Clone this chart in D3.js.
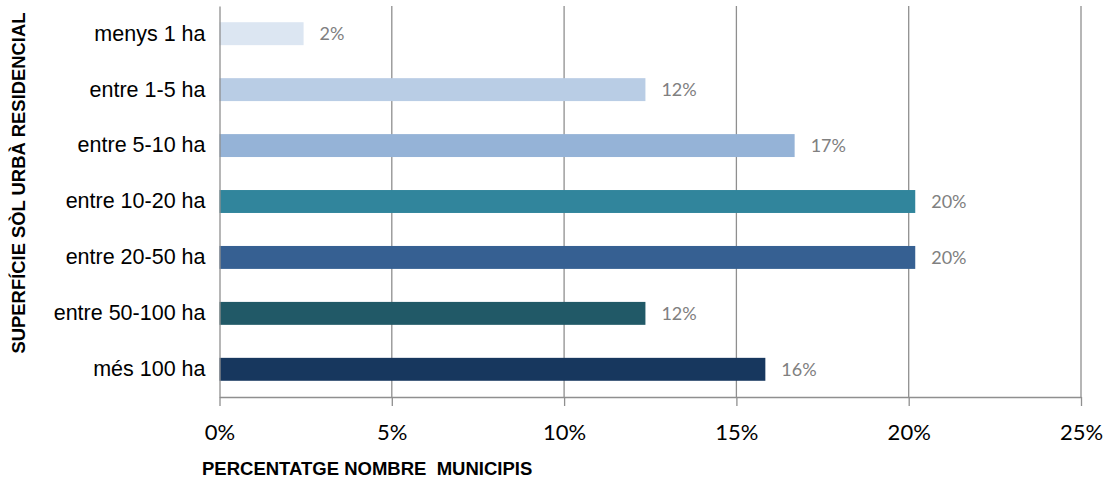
<!DOCTYPE html>
<html>
<head>
<meta charset="utf-8">
<script src="https://cdn.jsdelivr.net/npm/d3@7"></script>
<style>
  body { margin: 0; background: #fff; }
</style>
</head>
<body>
<div id="chart"></div>
<script>
// data
var categories = ["menys 1 ha", "entre 1-5 ha", "entre 5-10 ha", "entre 10-20 ha", "entre 20-50 ha", "entre 50-100 ha", "més 100 ha"]
var values = [0.0244, 0.1236, 0.1669, 0.2019, 0.2019, 0.1236, 0.1584]
var barColors = ["#dce6f2", "#b9cde5", "#95b3d7", "#31859c", "#366092", "#215967", "#17375e"]
var xTicks = [0, 0.05, 0.10, 0.15, 0.20, 0.25]

var width = 1107
var height = 484
var margin = {top: 6, right: 26, bottom: 87, left: 219.5}

var svg = d3.select("#chart")
  .append("svg")
    .attr("width", width)
    .attr("height", height)

var x = d3.scaleLinear()
  .domain([0, 0.25])
  .range([margin.left, width - margin.right])

var y = d3.scaleBand()
  .domain(categories)
  .range([margin.top, height - margin.bottom])
  .paddingInner(0.59)
  .paddingOuter(0.29)

// vertical gridlines
svg.append("g")
  .selectAll("line")
  .data(xTicks.slice(1))
  .join("line")
    .attr("x1", d => x(d))
    .attr("x2", d => x(d))
    .attr("y1", margin.top)
    .attr("y2", height - margin.bottom)
    .attr("stroke", "#8f8f8f")
    .attr("stroke-width", 1.3)

// bars
svg.append("g")
  .selectAll("rect")
  .data(values)
  .join("rect")
    .attr("x", x(0))
    .attr("y", (d, i) => y(categories[i]))
    .attr("width", d => x(d) - x(0))
    .attr("height", y.bandwidth())
    .attr("fill", (d, i) => barColors[i])

// data labels
svg.append("g")
  .selectAll("text")
  .data(values)
  .join("text")
    .attr("x", d => x(d) + 16)
    .attr("y", (d, i) => y(categories[i]) + y.bandwidth() / 2)
    .attr("dy", "0.36em")
    .attr("font-family", "Lato, 'Open Sans', sans-serif")
    .attr("font-size", 18)
    .attr("fill", "#808080")
    .text(d => d3.format(".0%")(d))

// x axis
var xAxis = svg.append("g")
  .attr("transform", "translate(0," + (height - margin.bottom) + ")")
  .call(d3.axisBottom(x).tickValues(xTicks).tickFormat(d3.format(".0%")).tickSizeInner(9).tickSizeOuter(0).tickPadding(18))
xAxis.select(".domain").attr("stroke", "#8f8f8f").attr("stroke-width", 1.3)
xAxis.selectAll(".tick line").attr("stroke", "#8f8f8f").attr("stroke-width", 1.3)
xAxis.selectAll(".tick text")
  .attr("font-family", "Lato, 'Open Sans', sans-serif")
  .attr("font-size", 22)
  .attr("fill", "#000")

// y axis
var yAxis = svg.append("g")
  .attr("transform", "translate(" + margin.left + ",0)")
  .call(d3.axisLeft(y).tickSize(0).tickPadding(14))
yAxis.select(".domain").attr("stroke", "#8f8f8f").attr("stroke-width", 1.3)
yAxis.selectAll(".tick text")
  .attr("font-family", "'Liberation Sans', Arial, sans-serif")
  .attr("font-size", 21.5)
  .attr("fill", "#000")

// axis titles
svg.append("text")
  .attr("x", 202)
  .attr("y", 475)
  .attr("font-family", "'Liberation Sans', Arial, sans-serif")
  .attr("font-weight", "bold")
  .attr("font-size", 18.5)
  .style("white-space", "pre")
  .text("PERCENTATGE NOMBRE  MUNICIPIS")

svg.append("text")
  .attr("transform", "translate(25,183) rotate(-90)")
  .attr("text-anchor", "middle")
  .attr("font-family", "'Liberation Sans', Arial, sans-serif")
  .attr("font-weight", "bold")
  .attr("font-size", 18.4)
  .text("SUPERFÍCIE SÒL URBÀ RESIDENCIAL")
</script>
</body>
</html>
